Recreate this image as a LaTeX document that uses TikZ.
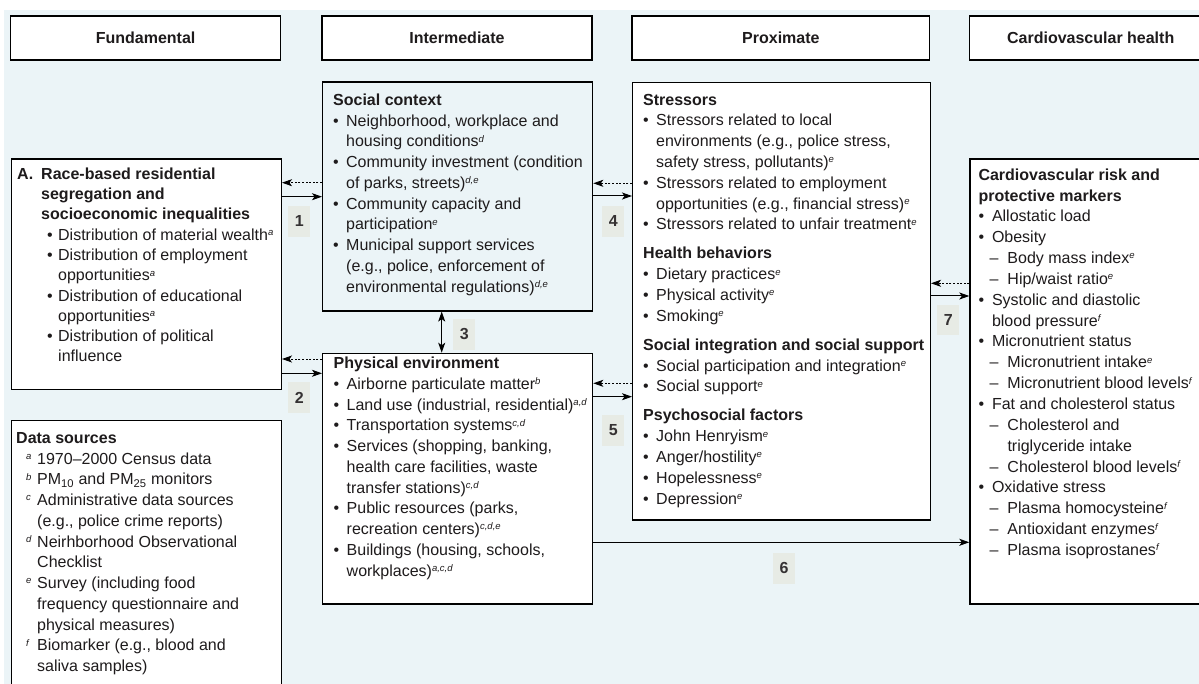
\documentclass[tikz,border=0pt]{standalone}
\usepackage{fontspec}
\setmainfont{Liberation Sans}
\usetikzlibrary{arrows.meta}
\definecolor{bgblue}{HTML}{EBF4F7}
\definecolor{labfill}{HTML}{E7EBE5}
\definecolor{txt}{HTML}{1E1B1C}
\newcommand{\spx}[1]{\raisebox{4.6pt}{\fontsize{9.5}{10}\selectfont\itshape #1}}
\newcommand{\bul}{\makebox[13pt][l]{\textbullet}}
\newcommand{\ind}{\hspace*{13pt}}
\tikzset{
  box/.style={draw=black, line width=1.3pt, fill=white, inner sep=0pt, anchor=north west},
  hdr/.style={draw=black, line width=1.3pt, fill=white, inner sep=0pt, minimum height=44pt,
    text=txt, font=\bfseries\fontsize{16}{19}\selectfont},
  txtblk/.style={anchor=north west, inner sep=0pt, align=left, text=txt,
    font=\fontsize{16}{20.75}\selectfont},
  lab/.style={fill=labfill, inner sep=0pt, minimum width=21.7pt, minimum height=30.7pt,
    text=txt!90, font=\bfseries\fontsize{16}{19}\selectfont},
  solidarr/.style={draw=black, line width=1pt, -{Stealth[length=10pt,width=7pt,inset=2.5pt]}},
  dasharr/.style={draw=black, line width=0.9pt, dash pattern=on 2pt off 1.6pt,
    -{Stealth[length=10pt,width=7pt,inset=2.5pt]}},
  dblarr/.style={draw=black, line width=1pt,
    {Stealth[length=10pt,width=7pt,inset=2.5pt]}-{Stealth[length=10pt,width=7pt,inset=2.5pt]}}
}
\begin{document}
\begin{tikzpicture}[x=1pt,y=-1pt]
\useasboundingbox (0,0) rectangle (1199,684);
\fill[bgblue] (3.8,10) rectangle (1199,690);

% headers
\node[hdr, minimum width=270.2pt] (hfund) at (145.6,38) {Fundamental};
\node[hdr, minimum width=270pt] (hinter) at (457,38) {Intermediate};
\node[hdr, minimum width=297.7pt] (hprox) at (780.9,38) {Proximate};
\node[hdr, minimum width=242.7pt] (hcard) at (1090.7,38) {Cardiovascular health};

% boxes
\node[box, minimum width=270.2pt, minimum height=230.7pt] (race) at (10.5,158.3) {};
\node[box, minimum width=270.2pt, minimum height=280pt] (data) at (10.5,420) {};
\node[box, fill=bgblue, minimum width=270pt, minimum height=229pt] (social) at (322,81.3) {};
\node[box, minimum width=270pt, minimum height=250.6pt] (phys) at (322,352.7) {};
\node[box, minimum width=297.7pt, minimum height=437.6pt] (stress) at (632,81.7) {};
\node[box, minimum width=242.7pt, minimum height=445pt] (card) at (969.3,158.3) {};

% texts
\node[txtblk, font=\fontsize{16}{20.3}\selectfont] (raceT) at (17,164.8) {%
\strut\makebox[24pt][l]{\textbf{A.}}\textbf{Race-based residential}\\
\hspace*{24pt}\textbf{segregation and}\\
\hspace*{24pt}\textbf{socioeconomic inequalities}\\
\hspace*{30pt}\makebox[11pt][l]{\textbullet}Distribution of material wealth\spx{a}\\
\hspace*{30pt}\makebox[11pt][l]{\textbullet}Distribution of employment\\
\hspace*{41pt}opportunities\spx{a}\\
\hspace*{30pt}\makebox[11pt][l]{\textbullet}Distribution of educational\\
\hspace*{41pt}opportunities\spx{a}\\
\hspace*{30pt}\makebox[11pt][l]{\textbullet}Distribution of political\\
\hspace*{41pt}influence};

\node[txtblk] (dataT) at (16,428.6) {%
\strut\textbf{Data sources}\\
\hspace*{10pt}\makebox[11pt][l]{\spx{a}}1970--2000 Census data\\
\hspace*{10pt}\makebox[11pt][l]{\spx{b}}PM\textsubscript{10} and PM\textsubscript{25} monitors\\
\hspace*{10pt}\makebox[11pt][l]{\spx{c}}Administrative data sources\\
\hspace*{21pt}(e.g., police crime reports)\\
\hspace*{10pt}\makebox[11pt][l]{\spx{d}}Neirhborhood Observational\\
\hspace*{21pt}Checklist\\
\hspace*{10pt}\makebox[11pt][l]{\spx{e}}Survey (including food\\
\hspace*{21pt}frequency questionnaire and\\
\hspace*{21pt}physical measures)\\
\hspace*{10pt}\makebox[11pt][l]{\spx{f}}Biomarker (e.g., blood and\\
\hspace*{21pt}saliva samples)};

\node[txtblk] (socialT) at (333,90.6) {%
\strut\textbf{Social context}\\
\bul Neighborhood, workplace and\\
\ind housing conditions\spx{d}\\
\bul Community investment (condition\\
\ind of parks, streets)\spx{d,e}\\
\bul Community capacity and\\
\ind participation\spx{e}\\
\bul Municipal support services\\
\ind (e.g., police, enforcement of\\
\ind environmental regulations)\spx{d,e}};

\node[txtblk] (physT) at (333.5,353.8) {%
\strut\textbf{Physical environment}\\
\bul Airborne particulate matter\spx{b}\\
\bul Land use (industrial, residential)\spx{a,d}\\
\bul Transportation systems\spx{c,d}\\
\bul Services (shopping, banking,\\
\ind health care facilities, waste\\
\ind transfer stations)\spx{c,d}\\
\bul Public resources (parks,\\
\ind recreation centers)\spx{c,d,e}\\
\bul Buildings (housing, schools,\\
\ind workplaces)\spx{a,c,d}};

\node[txtblk, font=\fontsize{16}{20.8}\selectfont] (stressT) at (643,90.4) {%
\strut\textbf{Stressors}\\
\bul Stressors related to local\\
\ind environments (e.g., police stress,\\
\ind safety stress, pollutants)\spx{e}\\
\bul Stressors related to employment\\
\ind opportunities (e.g., financial stress)\spx{e}\\
\bul Stressors related to unfair treatment\spx{e}\\[8.2pt]
\textbf{Health behaviors}\\
\bul Dietary practices\spx{e}\\
\bul Physical activity\spx{e}\\
\bul Smoking\spx{e}\\[8.2pt]
\textbf{Social integration and social support}\\
\bul Social participation and integration\spx{e}\\
\bul Social support\spx{e}\\[8.2pt]
\textbf{Psychosocial factors}\\
\bul John Henryism\spx{e}\\
\bul Anger/hostility\spx{e}\\
\bul Hopelessness\spx{e}\\
\bul Depression\spx{e}};

\node[txtblk, font=\fontsize{16}{20.85}\selectfont] (cardT) at (978.3,165.4) {%
\strut\textbf{Cardiovascular risk and}\\
\textbf{protective markers}\\
\makebox[13.5pt][l]{\textbullet}Allostatic load\\
\makebox[13.5pt][l]{\textbullet}Obesity\\
\hspace*{11pt}\makebox[18pt][l]{\textendash}Body mass index\spx{e}\\
\hspace*{11pt}\makebox[18pt][l]{\textendash}Hip/waist ratio\spx{e}\\
\makebox[13.5pt][l]{\textbullet}Systolic and diastolic\\
\hspace*{13.5pt}blood pressure\spx{f}\\
\makebox[13.5pt][l]{\textbullet}Micronutrient status\\
\hspace*{11pt}\makebox[18pt][l]{\textendash}Micronutrient intake\spx{e}\\
\hspace*{11pt}\makebox[18pt][l]{\textendash}Micronutrient blood levels\spx{f}\\
\makebox[13.5pt][l]{\textbullet}Fat and cholesterol status\\
\hspace*{11pt}\makebox[18pt][l]{\textendash}Cholesterol and\\
\hspace*{29pt}triglyceride intake\\
\hspace*{11pt}\makebox[18pt][l]{\textendash}Cholesterol blood levels\spx{f}\\
\makebox[13.5pt][l]{\textbullet}Oxidative stress\\
\hspace*{11pt}\makebox[18pt][l]{\textendash}Plasma homocysteine\spx{f}\\
\hspace*{11pt}\makebox[18pt][l]{\textendash}Antioxidant enzymes\spx{f}\\
\hspace*{11pt}\makebox[18pt][l]{\textendash}Plasma isoprostanes\spx{f}};

% connectors
\draw[dasharr] (social.west |- 0,182.7) -- (race.east |- 0,182.7);
\draw[solidarr] (race.east |- 0,196.7) -- (social.west |- 0,196.7);
\draw[dasharr] (phys.west |- 0,359) -- (race.east |- 0,359);
\draw[solidarr] (race.east |- 0,373.3) -- (phys.west |- 0,373.3);
\draw[dblarr] (social.south -| 441.7,0) -- (phys.north -| 441.7,0);
\draw[dasharr] (stress.west |- 0,183.3) -- (social.east |- 0,183.3);
\draw[solidarr] (social.east |- 0,196) -- (stress.west |- 0,196);
\draw[dasharr] (stress.west |- 0,383.3) -- (phys.east |- 0,383.3);
\draw[solidarr] (phys.east |- 0,396.7) -- (stress.west |- 0,396.7);
\draw[solidarr] (phys.east |- 0,542.3) -- (card.west |- 0,542.3);
\draw[dasharr] (card.west |- 0,283.3) -- (stress.east |- 0,283.3);
\draw[solidarr] (stress.east |- 0,296) -- (card.west |- 0,296);

% labels
\node[lab] (l1) at (299.2,221.4) {1};
\node[lab] (l2) at (299.2,397.5) {2};
\node[lab] (l3) at (464.2,334.5) {3};
\node[lab] (l4) at (613.2,221.4) {4};
\node[lab] (l5) at (613.2,430.5) {5};
\node[lab] (l6) at (784,568.4) {6};
\node[lab] (l7) at (948.2,320) {7};
\end{tikzpicture}
\end{document}
